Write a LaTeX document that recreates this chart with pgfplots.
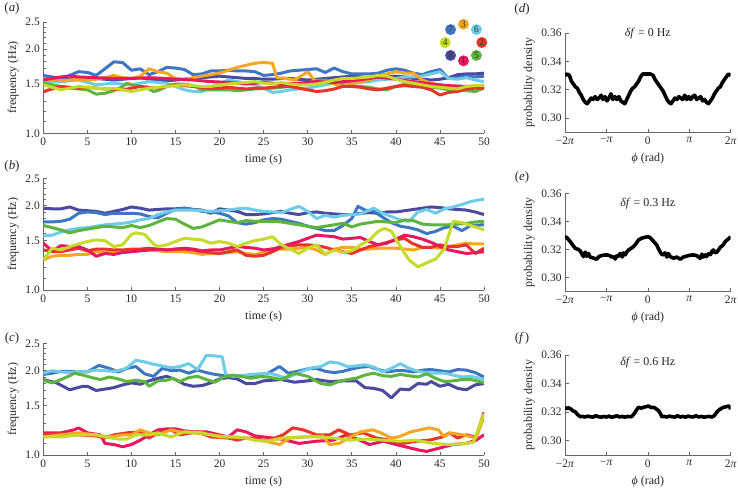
\documentclass[border=0pt]{standalone}
\usepackage{pgfplots}
\pgfplotsset{compat=1.18}
\usepackage{fontspec}
\setmainfont{Liberation Serif}
\definecolor{c1}{HTML}{E6195F}
\definecolor{c2}{HTML}{E8352B}
\definecolor{c3}{HTML}{F6A623}
\definecolor{c4}{HTML}{C5DA2A}
\definecolor{c5}{HTML}{5DB43F}
\definecolor{c6}{HTML}{6ECCE6}
\definecolor{c7}{HTML}{3D76C2}
\definecolor{c8}{HTML}{4A4A9E}
\pgfplotsset{
  mybase/.style={scale only axis, axis x line*=bottom, axis y line*=left,
    axis line style={black!60, line width=0.9bp, -},
    tick style={black!60, line width=0.7bp},
    major tick length=3.5bp, minor tick length=3bp, tick align=inside,
    ticklabel style={font=\fontsize{11.5}{13}\selectfont, text=black!85},
    xticklabel style={yshift=-1.5bp},
    label style={font=\fontsize{12}{14}\selectfont, text=black!85},
    xlabel style={yshift=-1.5bp},
    /pgf/number format/assume math mode=true},
  myfreq/.style={mybase, width=440.7bp, height=111.4bp, xmin=0, xmax=50,
    ymin=1, ymax=2.5,
    xtick={0,5,...,50}, ytick={1,1.5,2,2.5}, yticklabels={1.0,1.5,2.0,2.5},
    minor ytick={1.1,1.2,1.3,1.4,1.6,1.7,1.8,1.9,2.1,2.2,2.3,2.4},
    xlabel={time (s)}, ylabel={frequency (Hz)},
    every axis plot/.append style={line width=3bp, line join=round}},
  myphase/.style={mybase, width=165.7bp, height=99bp, xmin=-6.2832, xmax=6.2832,
    ymin=0.29, ymax=0.36, clip mode=individual,
    xtick={-6.2832,-3.1416,0,3.1416,6.2832},
    xticklabels={−2\textit{π},−\textit{π},0,\textit{π},2\textit{π}},
    ytick={0.30,0.32,0.34,0.36}, yticklabels={0.30,0.32,0.34,0.36},
    xlabel={\textit{ϕ} (rad)}, ylabel={probability density},
    every axis plot/.append style={line width=3.6bp, black, line join=round}}
}
\begin{document}
\begin{tikzpicture}
\useasboundingbox (0,0) rectangle (738bp,-489bp);
\tikzset{plab/.style={font=\fontsize{13}{15}\selectfont, text=black!85}}
\node[plab] at (12bp,-8bp) {(\textit{a})};
\node[plab] at (12bp,-166bp) {(\textit{b})};
\node[plab] at (12bp,-338bp) {(\textit{c})};
\node[plab] at (522bp,-9bp) {(\textit{d})};
\node[plab] at (522bp,-177bp) {(\textit{e})};
\node[plab] at (522bp,-338bp) {(\textit{f\,})};

% ---------------- panel a
\begin{axis}[ymode=log, myfreq, at={(43.3bp,-133.3bp)}, anchor=south west]
\addplot[c8, no marks] coordinates {(0,1.59)(1,1.57)(2,1.55)(3,1.56)(4,1.56)(5,1.55)(6,1.57)(7,1.56)(8,1.55)(9,1.56)(10,1.57)(11,1.58)(12,1.56)(13,1.55)(14,1.54)(15,1.55)(16,1.56)(17,1.57)(18,1.58)(19,1.59)(20,1.60)(21,1.59)(22,1.58)(23,1.57)(24,1.57)(25,1.56)(26,1.56)(27,1.57)(28,1.57)(29,1.56)(30,1.55)(31,1.56)(32,1.57)(33,1.58)(34,1.59)(35,1.60)(36,1.59)(37,1.58)(38,1.58)(39,1.59)(40,1.60)(41,1.59)(42,1.57)(43,1.56)(44,1.55)(45,1.56)(46,1.58)(47,1.62)(48,1.63)(49,1.63)(50,1.64)};
\addplot[c7, no marks] coordinates {(0,1.61)(1,1.59)(2,1.57)(3,1.61)(4,1.66)(5,1.65)(6,1.61)(7,1.70)(8,1.80)(9,1.79)(10,1.68)(11,1.70)(12,1.62)(13,1.66)(14,1.72)(15,1.71)(16,1.69)(17,1.62)(18,1.63)(19,1.67)(20,1.67)(21,1.68)(22,1.67)(23,1.67)(24,1.66)(25,1.61)(26,1.62)(27,1.64)(28,1.67)(29,1.68)(30,1.69)(31,1.70)(32,1.65)(33,1.71)(34,1.66)(35,1.63)(36,1.63)(37,1.63)(38,1.64)(39,1.68)(40,1.70)(41,1.68)(42,1.64)(43,1.62)(44,1.66)(45,1.69)(46,1.57)(47,1.58)(48,1.60)(49,1.59)(50,1.60)};
\addplot[c6, no marks] coordinates {(0,1.53)(1,1.53)(2,1.53)(3,1.54)(4,1.55)(5,1.52)(6,1.49)(7,1.50)(8,1.51)(9,1.50)(10,1.49)(11,1.51)(12,1.53)(13,1.52)(14,1.51)(15,1.47)(16,1.43)(17,1.41)(18,1.41)(19,1.46)(20,1.50)(21,1.55)(22,1.53)(23,1.51)(24,1.49)(25,1.45)(26,1.40)(27,1.41)(28,1.43)(29,1.44)(30,1.45)(31,1.47)(32,1.49)(33,1.51)(34,1.51)(35,1.51)(36,1.52)(37,1.53)(38,1.55)(39,1.56)(40,1.57)(41,1.59)(42,1.59)(43,1.60)(44,1.63)(45,1.66)(46,1.57)(47,1.56)(48,1.58)(49,1.55)(50,1.53)};
\addplot[c5, no marks] coordinates {(0,1.51)(1,1.49)(2,1.47)(3,1.45)(4,1.44)(5,1.43)(6,1.38)(7,1.39)(8,1.42)(9,1.47)(9.5,1.51)(10,1.49)(11,1.47)(12,1.44)(12.5,1.41)(13,1.42)(14,1.47)(15,1.50)(16,1.50)(17,1.48)(18,1.43)(19,1.43)(20,1.43)(21,1.43)(22,1.42)(23,1.43)(24,1.44)(26,1.45)(27,1.46)(28,1.47)(29,1.49)(30,1.51)(31,1.55)(32,1.55)(33,1.53)(34,1.49)(35,1.48)(36,1.47)(37,1.46)(38,1.44)(39,1.43)(40,1.47)(41,1.50)(42,1.51)(43,1.49)(44,1.46)(45,1.45)(46,1.43)(47,1.43)(48,1.42)(49,1.41)(50,1.45)};
\addplot[c3, no marks] coordinates {(0,1.57)(1,1.55)(2,1.54)(3,1.55)(4,1.56)(5,1.55)(6,1.56)(7,1.58)(8,1.61)(9,1.58)(10,1.57)(11,1.60)(12,1.70)(13,1.66)(14,1.64)(15,1.57)(16,1.56)(17,1.58)(18,1.60)(19,1.62)(20,1.64)(21,1.68)(22,1.72)(23,1.75)(24,1.78)(25,1.79)(26,1.78)(26.5,1.58)(27.5,1.57)(28.5,1.55)(29.5,1.62)(30,1.66)(31,1.51)(32,1.53)(33,1.50)(34,1.47)(35,1.51)(36,1.53)(37,1.55)(38,1.60)(39,1.63)(40,1.66)(41,1.64)(42,1.64)(43,1.55)(44,1.51)(45,1.49)(46,1.45)(47,1.45)(48,1.45)(49,1.46)(50,1.47)};
\addplot[c2, no marks] coordinates {(0,1.41)(1,1.44)(2,1.47)(3,1.46)(4,1.45)(5,1.46)(6,1.45)(7,1.44)(8,1.44)(9,1.43)(10,1.45)(11,1.47)(12,1.46)(13,1.45)(14,1.47)(15,1.49)(16,1.48)(17,1.47)(18,1.46)(19,1.45)(20,1.45)(21,1.46)(22,1.45)(23,1.44)(24,1.45)(25,1.45)(26,1.46)(27,1.47)(28,1.47)(29,1.45)(30,1.43)(31,1.41)(32,1.42)(33,1.44)(34,1.47)(35,1.47)(36,1.46)(37,1.44)(38,1.43)(39,1.45)(40,1.47)(41,1.48)(42,1.47)(43,1.46)(44,1.43)(45,1.37)(46,1.40)(47,1.41)(48,1.44)(49,1.45)(50,1.45)};
\addplot[c1, no marks] coordinates {(0,1.55)(1,1.57)(2,1.59)(3,1.60)(4,1.59)(6,1.58)(8,1.57)(10,1.57)(12,1.58)(14,1.57)(15,1.56)(17,1.55)(19,1.53)(21,1.52)(23,1.50)(25,1.52)(27,1.50)(29,1.51)(31,1.53)(33,1.52)(35,1.54)(37,1.57)(38,1.59)(40,1.56)(42,1.53)(44,1.50)(46,1.48)(48,1.47)(50,1.47)};
\addplot[c4, no marks] coordinates {(0,1.49)(1,1.46)(2,1.43)(3,1.45)(4,1.47)(5,1.46)(6,1.45)(7,1.44)(8,1.45)(9,1.43)(10,1.41)(11,1.43)(12,1.45)(13,1.46)(14,1.47)(15,1.48)(16,1.49)(17,1.48)(18,1.47)(19,1.47)(20,1.49)(21,1.50)(22,1.51)(23,1.52)(24,1.53)(25,1.51)(26,1.50)(27,1.52)(28,1.50)(29,1.49)(30,1.49)(31,1.50)(32,1.52)(33,1.55)(34,1.57)(35,1.57)(36,1.58)(37,1.59)(38,1.61)(39,1.60)(40,1.56)(41,1.53)(42,1.51)(43,1.49)(44,1.47)(45,1.46)(46,1.45)(47,1.44)(48,1.47)(49,1.48)(50,1.48)};
\coordinate (ring) at (axis description cs:0.9535,0.815);
\end{axis}
\foreach \n/\ang/\col in {3/90/c3,6/45/c6,2/0/c2,5/-45/c5,1/-90/c1,8/-135/c8,4/180/c4,7/135/c7}
  \path (ring) ++(\ang:18.3bp) node[circle, fill=\col, inner sep=0pt, minimum size=11bp, text=black!80, font=\fontsize{9.5}{10}\selectfont] {\n};

% ---------------- panel b
\begin{axis}[ymode=log, myfreq, at={(43.3bp,-290bp)}, anchor=south west]
\addplot[c8, no marks] coordinates {(0,1.96)(1,1.95)(2,1.95)(3,1.98)(4,1.93)(5,1.92)(6,1.91)(7,1.88)(8,1.91)(9,1.94)(10,1.98)(11,1.96)(12,1.93)(13,1.94)(14,1.95)(15,1.95)(16,1.96)(17,1.94)(18,1.93)(19,1.88)(20,1.95)(21,1.93)(22,1.91)(23,1.86)(24,1.86)(25,1.87)(26,1.89)(27,1.91)(28,1.88)(29,1.86)(30,1.89)(31,1.90)(32,1.88)(33,1.87)(34,1.86)(35,1.86)(36,1.88)(37,1.89)(38,1.88)(39,1.90)(40,1.90)(41,1.92)(42,1.94)(43,1.96)(44,1.98)(45,1.97)(46,1.95)(47,1.94)(48,1.93)(49,1.90)(50,1.86)};
\addplot[c7, no marks] coordinates {(0,1.75)(1,1.75)(2,1.76)(3,1.79)(4,1.88)(5,1.90)(6,1.89)(7,1.86)(8,1.88)(9,1.88)(10,1.88)(11,1.87)(12,1.83)(13,1.81)(14,1.88)(15,1.94)(16,1.96)(17,1.94)(18,1.91)(19,1.90)(20,1.88)(21,1.84)(22,1.74)(23,1.72)(24,1.74)(25,1.78)(26,1.80)(27,1.79)(28,1.76)(29,1.73)(30,1.69)(31,1.66)(32,1.63)(33,1.63)(34,1.70)(35,1.80)(35.7,1.99)(36.5,1.93)(37.5,1.91)(38.5,1.82)(39.5,1.74)(40.5,1.69)(41.5,1.67)(42.5,1.64)(43.5,1.59)(44.5,1.62)(45.5,1.67)(46.5,1.69)(47.5,1.63)(48.5,1.70)(50,1.71)};
\addplot[c6, no marks] coordinates {(0,1.56)(1,1.57)(2,1.61)(3,1.64)(4,1.66)(5,1.67)(6,1.69)(7,1.71)(8,1.72)(9,1.73)(10,1.75)(11,1.78)(12,1.80)(13,1.86)(14,1.90)(15,1.93)(16,1.93)(17,1.93)(18,1.92)(19,1.91)(20,1.92)(21,1.93)(22,1.95)(23,1.96)(24,1.93)(25,1.91)(26,1.90)(27,1.89)(28,1.94)(29,1.99)(30,1.91)(31,1.80)(32,1.85)(33,1.82)(34,1.85)(35,1.86)(36,1.87)(37,1.93)(37.5,1.96)(38.5,1.88)(39.5,1.83)(40.5,1.78)(41.5,1.76)(42.5,1.90)(43.5,1.94)(44.5,1.88)(45.5,1.95)(46.5,1.98)(47.5,2.02)(48.5,2.07)(49.5,2.10)(50,2.11)};
\addplot[c5, no marks] coordinates {(0,1.70)(1,1.67)(2,1.64)(3,1.60)(4,1.63)(5,1.65)(6,1.67)(7,1.69)(8,1.68)(9,1.67)(10,1.70)(11,1.67)(12,1.70)(13,1.75)(14,1.80)(15,1.79)(16,1.72)(17,1.66)(18,1.68)(19,1.73)(20,1.78)(21,1.76)(22,1.74)(23,1.77)(24,1.76)(25,1.76)(26,1.76)(27,1.75)(28,1.73)(29,1.71)(30,1.69)(31,1.67)(32,1.69)(33,1.71)(34,1.73)(35,1.68)(36,1.72)(37,1.74)(38,1.76)(39,1.75)(40,1.74)(41,1.78)(42,1.77)(43,1.72)(44,1.71)(45,1.71)(46,1.71)(47,1.72)(48,1.73)(49,1.75)(50,1.76)};
\addplot[c3, no marks] coordinates {(0,1.28)(1,1.32)(2,1.33)(3,1.33)(4,1.34)(5,1.34)(6,1.37)(7,1.36)(8,1.37)(9,1.38)(10,1.39)(11,1.39)(12,1.39)(13,1.38)(14,1.37)(15,1.37)(16,1.37)(17,1.36)(18,1.34)(19,1.35)(20,1.35)(21,1.36)(22,1.37)(23,1.35)(24,1.34)(25,1.36)(26,1.41)(27,1.40)(28,1.40)(29,1.41)(30,1.42)(31,1.39)(32,1.34)(33,1.40)(34,1.42)(35,1.42)(36,1.40)(37,1.40)(38,1.41)(39,1.41)(40,1.41)(41,1.40)(42,1.39)(43,1.42)(44,1.42)(45,1.41)(46,1.43)(47,1.45)(48,1.47)(49,1.46)(50,1.46)};
\addplot[c2, no marks] coordinates {(0,1.39)(1,1.37)(2,1.37)(3,1.39)(4,1.41)(5,1.38)(6,1.40)(7,1.40)(8,1.39)(9,1.39)(10,1.40)(11,1.40)(12,1.41)(13,1.40)(14,1.39)(15,1.40)(16,1.40)(17,1.39)(18,1.37)(19,1.36)(20,1.35)(21,1.37)(22,1.39)(23,1.33)(24,1.32)(25,1.33)(26,1.37)(27,1.42)(28,1.44)(29,1.45)(30,1.45)(31,1.44)(32,1.42)(33,1.39)(34,1.37)(35,1.35)(36,1.39)(37,1.43)(38,1.45)(39,1.48)(40,1.51)(41,1.53)(41.8,1.47)(43,1.42)(44,1.42)(45,1.45)(46,1.43)(47,1.43)(48,1.45)(49,1.35)(50,1.41)};
\addplot[c1, no marks] coordinates {(0,1.47)(1,1.38)(2,1.44)(3,1.43)(4,1.43)(5,1.39)(6,1.32)(7,1.35)(8,1.34)(9,1.36)(10,1.37)(11,1.38)(12,1.39)(13,1.40)(14,1.39)(15,1.40)(16,1.41)(17,1.40)(18,1.38)(19,1.39)(20,1.39)(21,1.41)(22,1.43)(23,1.42)(24,1.41)(25,1.39)(26,1.40)(27,1.43)(28,1.46)(29,1.49)(30,1.53)(31,1.57)(32,1.56)(33,1.55)(34,1.52)(35,1.53)(36,1.54)(37,1.49)(38,1.45)(39,1.47)(40,1.52)(41,1.57)(42,1.55)(43,1.52)(44,1.48)(45,1.43)(46,1.39)(47,1.37)(48,1.35)(49,1.36)(50,1.37)};
\addplot[c4, no marks] coordinates {(0,1.28)(1,1.41)(2,1.39)(3,1.43)(4,1.46)(5,1.49)(6,1.51)(7,1.50)(8,1.43)(9,1.45)(10,1.58)(10.5,1.60)(11.5,1.58)(12.5,1.46)(13,1.43)(14,1.45)(15,1.49)(16,1.53)(17,1.52)(18,1.51)(19,1.47)(20,1.49)(21,1.47)(22,1.43)(23,1.47)(24,1.50)(25,1.52)(26,1.55)(27,1.45)(28,1.40)(29,1.35)(30,1.41)(31,1.45)(32,1.34)(33,1.39)(34,1.36)(35,1.38)(36,1.45)(37,1.51)(38,1.62)(38.7,1.66)(39.5,1.62)(40.5,1.43)(41.5,1.28)(42.5,1.21)(43.5,1.25)(44.5,1.29)(45.5,1.40)(46.5,1.76)(47.5,1.74)(48.5,1.70)(49.5,1.66)(50,1.64)};
\end{axis}

% ---------------- panel c
\begin{axis}[ymode=log, myfreq, at={(43.3bp,-455bp)}, anchor=south west]
\addplot[c8, no marks] coordinates {(0,1.86)(1.5,1.81)(3,1.71)(4.5,1.76)(5,1.76)(6,1.70)(7,1.72)(8,1.74)(9,1.78)(10,1.81)(11,1.79)(12,1.84)(13,1.88)(14,1.91)(15,1.86)(16,1.79)(17,1.76)(18,1.77)(19,1.81)(20,1.87)(21,1.89)(22,1.87)(23,1.80)(24,1.80)(25,1.84)(27,1.86)(28.5,1.82)(30,1.84)(31,1.86)(32.5,1.83)(34,1.84)(35.5,1.84)(36.5,1.74)(37.5,1.73)(38.5,1.70)(39.5,1.60)(40.5,1.72)(41.5,1.71)(42.5,1.80)(43.5,1.79)(44,1.83)(45,1.76)(46,1.79)(47,1.73)(48,1.71)(49,1.78)(50,1.80)};
\addplot[c7, no marks] coordinates {(0,1.94)(1,1.96)(2,1.99)(3,1.99)(4,1.98)(5,1.98)(6.3,2.09)(7.5,2.04)(8.5,1.98)(9.5,2.04)(10.5,2.07)(11.5,1.95)(12.5,1.91)(13.5,2.04)(14.5,2.00)(15.5,2.01)(16.5,1.96)(17.5,2.01)(18.5,1.97)(19.5,1.94)(20.5,1.92)(21.5,1.91)(22.5,1.92)(23.5,1.92)(24.5,1.93)(25.5,1.96)(26.8,2.07)(27.8,1.96)(28.8,1.99)(30,2.03)(31,2.04)(32,1.99)(33,1.97)(34,1.99)(35,2.03)(36,2.06)(37,2.07)(38,2.02)(39,1.98)(40,2.00)(41,2.00)(42,1.98)(43,2.01)(44,2.02)(45,2.00)(46,1.98)(47,2.02)(48,2.01)(49,1.97)(50,1.90)};
\addplot[c6, no marks] coordinates {(0,1.96)(1,2.00)(2,1.98)(3,1.97)(4,1.99)(5,1.99)(6,2.01)(7,2.00)(8,1.99)(9,2.02)(9.5,2.05)(10.5,2.18)(11.5,2.15)(12.5,2.11)(13.5,2.08)(14.5,2.05)(15.5,2.07)(16.5,2.12)(17.5,2.02)(18.5,2.27)(19.5,2.26)(20.3,2.24)(20.7,1.94)(21.5,1.91)(22.5,1.92)(23.5,1.94)(24.5,1.95)(25.5,1.96)(26.5,1.93)(27.5,1.88)(28.5,1.94)(29.5,2.00)(30.5,2.05)(31.5,2.07)(32.5,2.15)(33.5,2.13)(34.5,2.07)(35.5,2.08)(36.5,2.10)(37.5,2.06)(38.5,1.98)(39.5,2.04)(40.5,2.12)(41.5,2.04)(42.5,1.99)(43.5,1.97)(44.5,1.96)(45.5,1.96)(46.5,1.93)(47.5,1.90)(48.5,1.91)(49.5,1.88)(50,1.86)};
\addplot[c5, no marks] coordinates {(0,1.85)(1,1.81)(2,1.86)(3,1.92)(3.5,1.96)(4.5,1.93)(5.5,1.89)(6.5,1.86)(7.5,1.90)(8.5,1.87)(9.5,1.83)(10.5,1.85)(11.5,1.83)(12,1.76)(13,1.84)(14,1.85)(14.7,1.88)(15.5,1.83)(16.5,1.89)(17.5,1.91)(18.5,1.86)(19.5,1.82)(20.5,1.90)(21.5,1.93)(22.5,1.91)(23.5,1.88)(24.5,1.90)(25.5,1.90)(27,1.86)(28.5,1.96)(30,1.91)(31.5,1.80)(32.5,1.78)(33.5,1.83)(34.5,1.86)(35.5,1.88)(36.5,1.93)(37.5,1.96)(38.5,1.92)(39.5,1.91)(40.5,1.94)(41.5,1.92)(42.5,1.90)(43.5,1.95)(44.5,1.88)(45.5,1.83)(46.5,1.84)(47.5,1.86)(48.5,1.86)(49.5,1.83)(50,1.81)};
\addplot[c1, no marks] coordinates {(0,1.20)(1,1.20)(2,1.20)(3.5,1.23)(4,1.25)(5,1.20)(6.5,1.18)(7,1.10)(8,1.09)(9,1.07)(10,1.09)(11,1.13)(12,1.18)(13,1.23)(14,1.24)(15,1.24)(16,1.22)(17,1.21)(18.5,1.21)(20,1.18)(21,1.16)(22,1.23)(23,1.21)(24,1.17)(25,1.16)(27,1.14)(29,1.10)(31,1.12)(32.9,1.13)(34.4,1.18)(35.9,1.13)(37,1.09)(38.6,1.12)(40,1.09)(42.7,1.04)(43.5,1.03)(45,1.06)(46.5,1.09)(48,1.10)(49.1,1.13)(50,1.18)};
\addplot[c2, no marks] coordinates {(0,1.18)(2,1.19)(4,1.18)(6,1.17)(7,1.15)(8,1.18)(9.5,1.20)(11,1.21)(12,1.15)(13,1.20)(14.5,1.23)(15.5,1.18)(17.5,1.21)(19,1.16)(21,1.15)(22,1.13)(23,1.15)(24,1.15)(25.3,1.12)(27.2,1.18)(28.3,1.25)(29.5,1.23)(31,1.18)(32.5,1.18)(33.5,1.23)(34.8,1.18)(36.3,1.20)(37.8,1.15)(39.3,1.13)(40.8,1.10)(42.3,1.12)(43.8,1.13)(45.3,1.16)(46.1,1.20)(47,1.15)(48,1.18)(49.1,1.16)(50,1.42)};
\addplot[c3, no marks] coordinates {(0,1.16)(2,1.18)(4,1.20)(6,1.18)(7.5,1.16)(9,1.18)(10,1.18)(11,1.23)(12,1.20)(13,1.18)(14.5,1.23)(15.5,1.21)(17,1.20)(19,1.18)(21,1.16)(23,1.15)(24,1.13)(25.3,1.12)(26.8,1.09)(28,1.15)(29.8,1.16)(31.7,1.17)(32.5,1.09)(33.6,1.10)(34.8,1.16)(36,1.21)(37.4,1.23)(38.3,1.20)(39.5,1.15)(40.3,1.16)(41.7,1.21)(43.8,1.25)(44.8,1.23)(45.5,1.16)(46.1,1.20)(47.6,1.18)(49.1,1.15)(50,1.37)};
\addplot[c4, no marks] coordinates {(0,1.16)(2,1.16)(4,1.18)(6,1.18)(7,1.16)(8.5,1.14)(9.5,1.14)(10.5,1.18)(12,1.18)(13,1.20)(14.5,1.16)(16,1.21)(18,1.20)(20,1.16)(22,1.16)(23,1.15)(24,1.13)(25.3,1.12)(27.2,1.15)(29.1,1.16)(31,1.16)(32.9,1.15)(34.8,1.13)(36.7,1.14)(38.6,1.13)(40.4,1.12)(42.3,1.13)(44.2,1.10)(46.1,1.09)(48,1.10)(48.8,1.11)(50,1.40)};
\end{axis}

% ---------------- panel d
\begin{axis}[myphase, at={(565bp,-132bp)}, anchor=south west]
\addplot[no marks] coordinates {(-6.28,0.330)(-6.1,0.331)(-5.95,0.330)(-5.8,0.326)(-5.65,0.324)(-5.5,0.322)(-5.35,0.321)(-5.2,0.318)(-5.05,0.316)(-4.9,0.313)(-4.75,0.311)(-4.6,0.310)(-4.45,0.312)(-4.3,0.314)(-4.15,0.313)(-4.0,0.315)(-3.85,0.313)(-3.7,0.314)(-3.55,0.316)(-3.4,0.313)(-3.25,0.315)(-3.1,0.312)(-2.95,0.314)(-2.8,0.317)(-2.65,0.313)(-2.5,0.315)(-2.35,0.313)(-2.2,0.315)(-2.05,0.312)(-1.9,0.311)(-1.75,0.310)(-1.6,0.313)(-1.45,0.316)(-1.3,0.319)(-1.15,0.321)(-1.0,0.322)(-0.85,0.324)(-0.7,0.326)(-0.55,0.329)(-0.4,0.331)(-0.2,0.331)(0,0.331)(0.2,0.331)(0.4,0.330)(0.55,0.327)(0.7,0.325)(0.85,0.323)(1.0,0.321)(1.15,0.319)(1.3,0.316)(1.45,0.313)(1.6,0.311)(1.75,0.310)(1.9,0.312)(2.05,0.314)(2.2,0.313)(2.35,0.315)(2.5,0.314)(2.65,0.313)(2.8,0.316)(2.95,0.313)(3.1,0.315)(3.25,0.313)(3.4,0.315)(3.55,0.316)(3.7,0.313)(3.85,0.314)(4.0,0.315)(4.15,0.312)(4.3,0.313)(4.45,0.311)(4.6,0.310)(4.75,0.312)(4.9,0.314)(5.05,0.317)(5.2,0.319)(5.35,0.321)(5.5,0.322)(5.65,0.325)(5.8,0.327)(5.95,0.329)(6.1,0.331)(6.28,0.330)};
\node[font=\fontsize{12}{14}\selectfont, text=black!85] at (axis description cs:0.5,0.995) {\textit{δf} = 0 Hz};
\end{axis}

% ---------------- panel e
\begin{axis}[myphase, at={(565bp,-291.3bp)}, anchor=south west, height=98bp]
\addplot[no marks] coordinates {(-6.28,0.329)(-6.1,0.328)(-5.89,0.3255)(-5.7,0.323)(-5.51,0.3207)(-5.3,0.320)(-5.13,0.319)(-5.0,0.3165)(-4.88,0.3148)(-4.75,0.318)(-4.63,0.315)(-4.5,0.317)(-4.37,0.3143)(-4.2,0.314)(-4.05,0.3135)(-3.87,0.3129)(-3.75,0.3145)(-3.62,0.3152)(-3.4,0.3158)(-3.11,0.316)(-2.9,0.3155)(-2.75,0.3145)(-2.6,0.3148)(-2.48,0.3131)(-2.35,0.3155)(-2.2,0.315)(-2.1,0.3171)(-1.95,0.3145)(-1.85,0.3175)(-1.72,0.316)(-1.6,0.318)(-1.47,0.3195)(-1.3,0.3205)(-1.09,0.3219)(-0.9,0.324)(-0.71,0.3267)(-0.45,0.328)(-0.2,0.3286)(0,0.329)(0.15,0.3285)(0.3,0.327)(0.5,0.325)(0.68,0.323)(0.8,0.3205)(0.94,0.318)(1.05,0.3165)(1.19,0.316)(1.3,0.3175)(1.44,0.3145)(1.55,0.317)(1.7,0.3148)(1.95,0.3136)(2.2,0.3145)(2.45,0.3129)(2.7,0.3145)(2.96,0.3152)(3.2,0.3158)(3.46,0.316)(3.7,0.3155)(3.97,0.3136)(4.1,0.3165)(4.2,0.3145)(4.35,0.316)(4.45,0.3148)(4.6,0.317)(4.75,0.3162)(4.88,0.3188)(4.98,0.3195)(5.1,0.3175)(5.23,0.318)(5.35,0.3195)(5.49,0.3214)(5.7,0.323)(5.87,0.3255)(6.05,0.327)(6.25,0.3286)(6.28,0.3288)};
\node[font=\fontsize{12}{14}\selectfont, text=black!85] at (axis description cs:0.5,0.90) {\textit{δf} = 0.3 Hz};
\end{axis}

% ---------------- panel f
\begin{axis}[myphase, at={(565bp,-455bp)}, anchor=south west, height=100bp]
\addplot[no marks] coordinates {(-6.28,0.3234)(-6.15,0.3225)(-6.0,0.323)(-5.85,0.3222)(-5.7,0.321)(-5.51,0.3203)(-5.35,0.3185)(-5.13,0.3168)(-4.95,0.317)(-4.75,0.3166)(-4.55,0.3172)(-4.35,0.3168)(-4.15,0.3165)(-3.95,0.3175)(-3.75,0.3168)(-3.55,0.3165)(-3.35,0.317)(-3.15,0.3166)(-2.95,0.3172)(-2.75,0.3165)(-2.55,0.3168)(-2.35,0.3175)(-2.15,0.3166)(-1.95,0.317)(-1.75,0.3165)(-1.55,0.317)(-1.35,0.3168)(-1.21,0.317)(-1.08,0.3185)(-0.96,0.320)(-0.83,0.322)(-0.71,0.3234)(-0.5,0.3228)(-0.33,0.3234)(-0.15,0.3238)(0.05,0.3243)(0.25,0.3232)(0.43,0.3234)(0.6,0.3225)(0.81,0.321)(0.95,0.319)(1.06,0.3168)(1.25,0.317)(1.45,0.3166)(1.65,0.3172)(1.85,0.3168)(2.05,0.3165)(2.25,0.3175)(2.45,0.3166)(2.65,0.317)(2.85,0.3165)(3.05,0.3172)(3.25,0.3168)(3.45,0.3166)(3.65,0.3175)(3.85,0.3166)(4.05,0.317)(4.25,0.3165)(4.45,0.3168)(4.65,0.317)(4.85,0.3166)(5.0,0.3172)(5.11,0.3185)(5.23,0.320)(5.36,0.3213)(5.55,0.3225)(5.74,0.3234)(5.95,0.3238)(6.12,0.3243)(6.22,0.3235)(6.28,0.322)};
\node[font=\fontsize{12}{14}\selectfont, text=black!85] at (axis description cs:0.5,0.92) {\textit{δf} = 0.6 Hz};
\end{axis}
\end{tikzpicture}
\end{document}
